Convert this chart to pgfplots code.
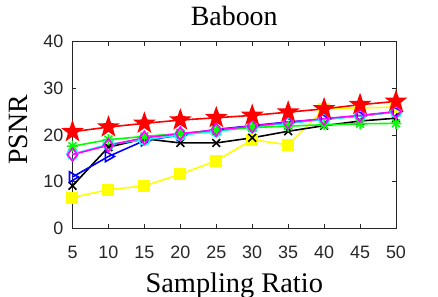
\documentclass[border=0pt]{standalone}
\usepackage{fontspec}
\setmainfont{Liberation Serif}
\newfontfamily\arialf{Liberation Sans}
\usepackage{pgfplots}
\pgfplotsset{compat=1.18}
\usetikzlibrary{plotmarks}
\pgfdeclareplotmark{pstar}{%
  \pgfpathmoveto{\pgfpointpolar{90}{\pgfplotmarksize}}%
  \pgfpathlineto{\pgfpointpolar{126}{0.40\pgfplotmarksize}}%
  \pgfpathlineto{\pgfpointpolar{162}{\pgfplotmarksize}}%
  \pgfpathlineto{\pgfpointpolar{198}{0.40\pgfplotmarksize}}%
  \pgfpathlineto{\pgfpointpolar{234}{\pgfplotmarksize}}%
  \pgfpathlineto{\pgfpointpolar{270}{0.40\pgfplotmarksize}}%
  \pgfpathlineto{\pgfpointpolar{306}{\pgfplotmarksize}}%
  \pgfpathlineto{\pgfpointpolar{342}{0.40\pgfplotmarksize}}%
  \pgfpathlineto{\pgfpointpolar{18}{\pgfplotmarksize}}%
  \pgfpathlineto{\pgfpointpolar{54}{0.40\pgfplotmarksize}}%
  \pgfpathclose
  \pgfusepathqfillstroke}
\pgfdeclareplotmark{mstar}{%
  \pgfpathmoveto{\pgfqpoint{0pt}{\pgfplotmarksize}}\pgfpathlineto{\pgfqpoint{0pt}{-\pgfplotmarksize}}%
  \pgfpathmoveto{\pgfqpoint{\pgfplotmarksize}{0pt}}\pgfpathlineto{\pgfqpoint{-\pgfplotmarksize}{0pt}}%
  \pgfpathmoveto{\pgfpointpolar{45}{\pgfplotmarksize}}\pgfpathlineto{\pgfpointpolar{225}{\pgfplotmarksize}}%
  \pgfpathmoveto{\pgfpointpolar{135}{\pgfplotmarksize}}\pgfpathlineto{\pgfpointpolar{315}{\pgfplotmarksize}}%
  \pgfusepathqstroke}
\definecolor{axgray}{gray}{0.15}
\definecolor{myyellow}{rgb}{1,1,0}
\definecolor{mygreen}{rgb}{0,1,0}
\definecolor{mymagenta}{rgb}{1,0,1}
\definecolor{mycyan}{rgb}{0,1,1}
\definecolor{myblue}{rgb}{0,0,1}
\definecolor{myred}{rgb}{1,0,0}
\begin{document}
\begin{tikzpicture}
\useasboundingbox (-72.5bp,-68.7bp) rectangle (365.5bp,228.3bp);
\begin{axis}[
  at={(0,0)}, anchor=south west,
  scale only axis, width=323.5bp, height=186.6bp,
  xmin=5, xmax=50, ymin=0, ymax=40,
  xtick={5,10,...,50}, ytick={0,10,20,30,40},
  tick align=inside, tick pos=both,
  major tick length=4bp,
  axis line style={axgray, line width=0.6bp},
  every tick/.style={axgray, line width=0.6bp},
  /pgf/number format/assume math mode=true,
  ticklabel style={font=\arialf\fontsize{18}{20}\selectfont, text=axgray},
  xticklabel style={anchor=base, inner sep=0pt, yshift=-29.7bp},
  yticklabel style={anchor=east, inner sep=0pt, xshift=-9bp},
  title={Baboon},
  title style={at={(axis description cs:0.5,1)}, anchor=base, yshift=10bp, font=\fontsize{28}{30}\selectfont, inner sep=0pt},
  xlabel={Sampling Ratio},
  xlabel style={at={(axis description cs:0.5,0)}, anchor=base, yshift=-63.7bp, font=\fontsize{28.5}{30}\selectfont, inner sep=0pt},
  ylabel={PSNR},
  every axis y label/.style={at={(axis description cs:-0.168,0.527)}, anchor=center, rotate=90, font=\fontsize{28}{30}\selectfont, inner sep=0pt},
  every axis plot/.append style={line width=1.6bp},
  every mark/.append style={line width=1.8bp},
]
% yellow squares
\addplot[myyellow, mark=square*, mark size=5.2bp, mark options={solid}] coordinates {
(5,6.6) (10,8.3) (15,9.1) (20,11.6) (25,14.5) (30,19.0) (35,17.9) (40,25.6) (45,25.8) (50,26.0)};
% black x
\addplot[black, mark=x, mark size=5.5bp] coordinates {
(5,9.1) (10,17.4) (15,19.2) (20,18.3) (25,18.3) (30,19.4) (35,20.8) (40,22.0) (45,23.0) (50,23.6)};
% blue triangles
\addplot[myblue, mark=triangle, mark size=6bp, mark options={rotate=-90}] coordinates {
(5,11.0) (10,15.4) (15,18.8) (20,20.0) (25,21.2) (30,22.0) (35,22.8) (40,23.4) (45,24.1) (50,25.0)};
% cyan circles
\addplot[mycyan, mark=o, mark size=5.5bp] coordinates {
(5,15.9) (10,18.0) (15,19.0) (20,20.0) (25,20.8) (30,21.7) (35,22.5) (40,23.3) (45,24.1) (50,24.9)};
% green asterisks
\addplot[mygreen, mark=mstar, mark size=5.5bp] coordinates {
(5,17.6) (10,19.0) (15,19.7) (20,20.3) (25,21.0) (30,21.6) (35,21.9) (40,22.2) (45,22.4) (50,22.5)};
% magenta diamonds
\addplot[mymagenta, mark=diamond, mark size=6.5bp] coordinates {
(5,15.8) (10,17.8) (15,19.4) (20,20.3) (25,21.1) (30,21.9) (35,22.7) (40,23.5) (45,24.2) (50,25.0)};
% red stars
\addplot[myred, mark=pstar, mark size=9.5bp] coordinates {
(5,20.7) (10,21.7) (15,22.5) (20,23.2) (25,23.7) (30,24.2) (35,24.9) (40,25.6) (45,26.5) (50,27.2)};
\end{axis}
\end{tikzpicture}
\end{document}
